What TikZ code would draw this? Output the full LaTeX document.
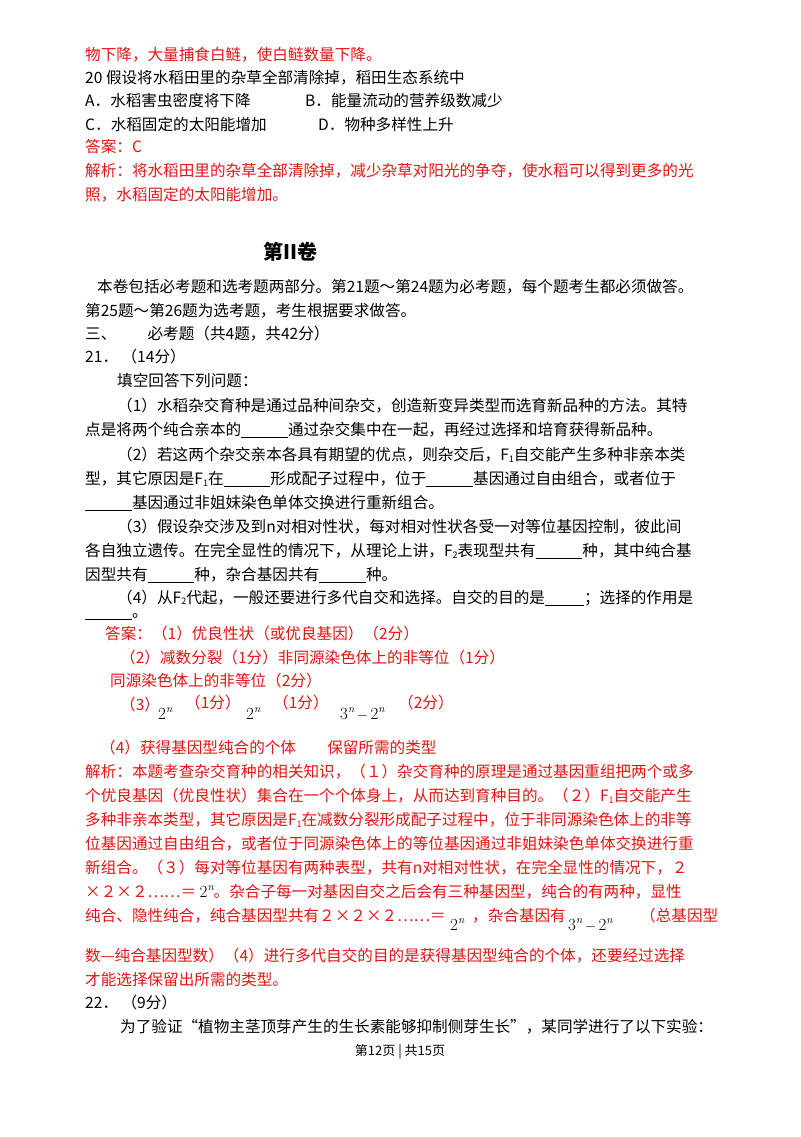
\documentclass[tikz,border=0pt]{standalone}
\usepackage{fontspec}
\setmainfont{Noto Sans CJK SC}
\newfontfamily\lmr{Latin Modern Roman}
\definecolor{ansred}{RGB}{230,20,20}
\newcommand{\Fsub}[1]{F\raisebox{-1.5pt}{\fontsize{9}{9}\selectfont #1}}
\newcommand{\pw}[1]{{\lmr\fontsize{17}{18}\selectfont #1\raisebox{7pt}{\fontsize{11}{11}\selectfont\itshape n}}}
\begin{document}
\begin{tikzpicture}[x=1pt,y=-1pt,
  t/.style={anchor=west,inner sep=0pt,font=\fontsize{15.6}{18}\selectfont},
  r/.style={t,text=ansred}]
\useasboundingbox (0,0) rectangle (800,1137);
\fill[white] (0,0) rectangle (800,1137);
\node[r] (l1) at (85,55) {物下降，大量捕食白鲢，使白鲢数量下降。};
\node[t] (l2) at (85,78) {20 假设将水稻田里的杂草全部清除掉，稻田生态系统中};
\node[t] (l3a) at (85,101) {A．水稻害虫密度将下降};
\node[t] (l3b) at (305,101) {B．能量流动的营养级数减少};
\node[t] (l4a) at (85,125) {C．水稻固定的太阳能增加};
\node[t] (l4b) at (318,125) {D．物种多样性上升};
\node[r] (l5) at (85,147) {答案：C};
\node[r] (l6) at (85,171) {解析：将水稻田里的杂草全部清除掉，减少杂草对阳光的争夺，使水稻可以得到更多的光};
\node[r] (l7) at (85,195) {照，水稻固定的太阳能增加。};
\node[t,anchor=center,font=\fontsize{20}{24}\selectfont\bfseries] (h) at (290,252) {第II卷};
\node[t] (p1) at (97,287) {本卷包括必考题和选考题两部分。第21题～第24题为必考题，每个题考生都必须做答。};
\node[t] (p2) at (85,311) {第25题～第26题为选考题，考生根据要求做答。};
\node[t] (p3) at (85,334) {三、\hspace{2em}必考题（共4题，共42分）};
\node[t] (p4) at (85,357) {21．\ （14分）};
\node[t] (p5) at (117,381) {填空回答下列问题：};
\node[t] (q1) at (117,406) {（1）水稻杂交育种是通过品种间杂交，创造新变异类型而选育新品种的方法。其特};
\node[t] (q2) at (85,430) {点是将两个纯合亲本的\underline{\hspace{3em}}通过杂交集中在一起，再经过选择和培育获得新品种。};
\node[t] (q3) at (117,455) {（2）若这两个杂交亲本各具有期望的优点，则杂交后，\Fsub{1}自交能产生多种非亲本类};
\node[t] (q4) at (85,479) {型，其它原因是\Fsub{1}在\underline{\hspace{3em}}形成配子过程中，位于\underline{\hspace{3em}}基因通过自由组合，或者位于};
\node[t] (q5) at (85,503) {\underline{\hspace{3em}}基因通过非姐妹染色单体交换进行重新组合。};
\node[t] (q6) at (117,527) {（3）假设杂交涉及到n对相对性状，每对相对性状各受一对等位基因控制，彼此间};
\node[t] (q7) at (85,551) {各自独立遗传。在完全显性的情况下，从理论上讲，\Fsub{2}表现型共有\underline{\hspace{3em}}种，其中纯合基};
\node[t] (q8) at (85,575) {因型共有\underline{\hspace{3em}}种，杂合基因共有\underline{\hspace{3em}}种。};
\node[t] (q9) at (117,598) {（4）从\Fsub{2}代起，一般还要进行多代自交和选择。自交的目的是\underline{\hspace{2.5em}}；选择的作用是};
\node[t] (q10) at (85,617) {\underline{\hspace{3em}}。};
\node[r] (a1) at (105,634) {答案：（1）优良性状（或优良基因）（2分）};
\node[r] (a2) at (120,658) {（2）减数分裂（1分）非同源染色体上的非等位（1分）};
\node[r] (a3) at (110,681) {同源染色体上的非等位（2分）};
\node[r] (a4) at (120,705) {（3）};
\node[r] (a5) at (185,703) {（1分）};
\node[r] (a6) at (273,703) {（1分）};
\node[r] (a7) at (398,703) {（2分）};
\node[t] (m1) at (158,714) {\pw{2}};
\node[t] (m2) at (246,714) {\pw{2}};
\node[t] (m3) at (340,714) {\pw{3}\,$-$\,\pw{2}};
\node[r] (a8) at (100,748) {（4）获得基因型纯合的个体\hspace{2em}保留所需的类型};
\node[r] (s1) at (85,772) {解析：本题考查杂交育种的相关知识，（１）杂交育种的原理是通过基因重组把两个或多};
\node[r] (s2) at (85,796) {个优良基因（优良性状）集合在一个个体身上，从而达到育种目的。（２）\Fsub{1}自交能产生};
\node[r] (s3) at (85,820) {多种非亲本类型，其它原因是\Fsub{1}在减数分裂形成配子过程中，位于非同源染色体上的非等};
\node[r] (s4) at (85,844) {位基因通过自由组合，或者位于同源染色体上的等位基因通过非姐妹染色单体交换进行重};
\node[r] (s5) at (85,868) {新组合。（３）每对等位基因有两种表型，共有n对相对性状，在完全显性的情况下，２};
\node[r] (s6) at (85,892) {×２×２……＝ {\color{black}\pw{2}}。杂合子每一对基因自交之后会有三种基因型，纯合的有两种，显性};
\node[r] (s7) at (85,916) {纯合、隐性纯合，纯合基因型共有２×２×２……＝};
\node[t] (m4) at (450,925) {\pw{2}};
\node[r] (s7b) at (472,916) {，杂合基因有};
\node[t] (m5) at (568,925) {\pw{3}\,$-$\,\pw{2}};
\node[r] (s7c) at (640,916) {（总基因型};
\node[r] (s8) at (85,956) {数—纯合基因型数）（4）进行多代自交的目的是获得基因型纯合的个体，还要经过选择};
\node[r] (s9) at (85,980) {才能选择保留出所需的类型。};
\node[t] (b1) at (85,1003) {22．\ （9分）};
\node[t] (b2) at (120,1027) {为了验证“植物主茎顶芽产生的生长素能够抑制侧芽生长”，某同学进行了以下实验：};
\node[t,anchor=center,font=\fontsize{13}{15}\selectfont] (ft) at (400,1052) {第12页 | 共15页};
\end{tikzpicture}
\end{document}
